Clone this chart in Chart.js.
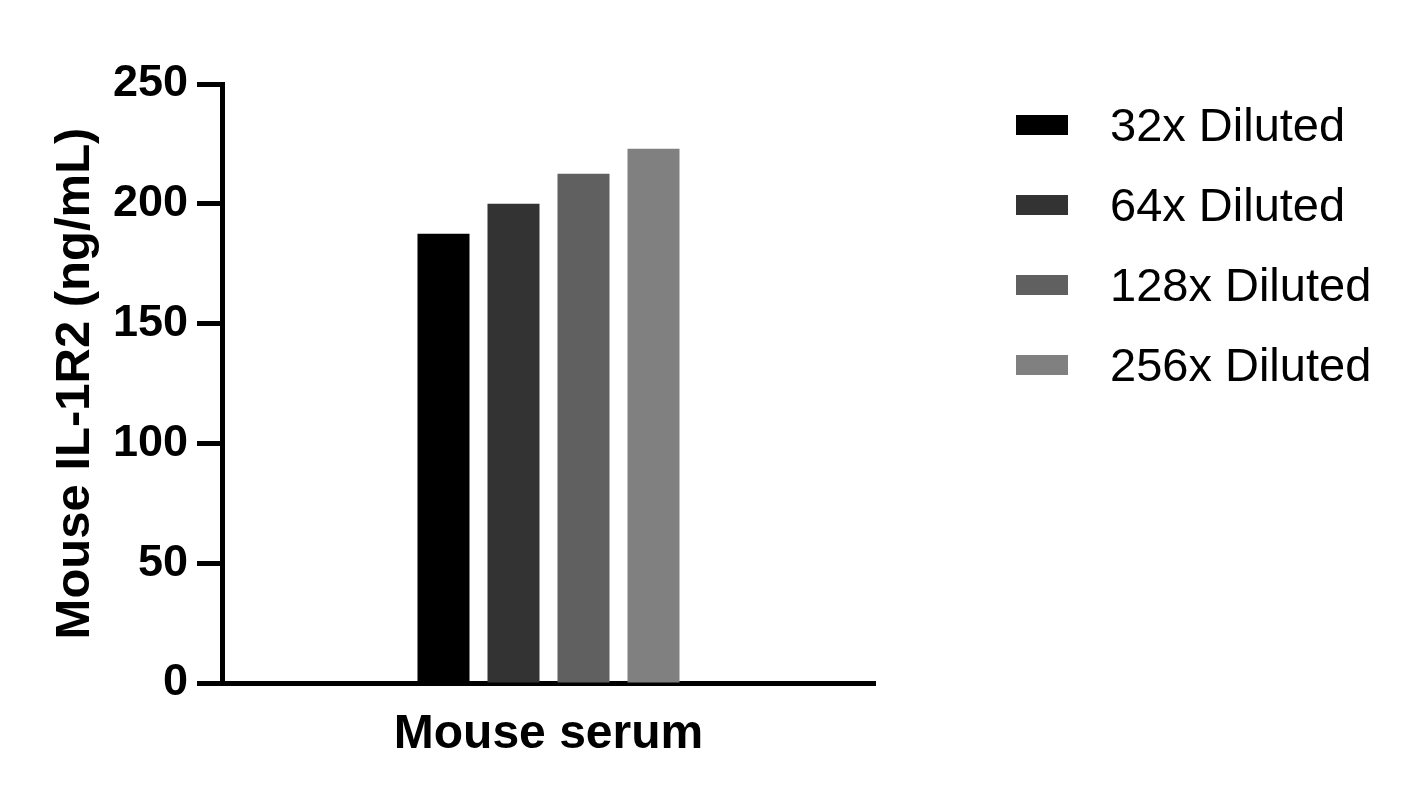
<!DOCTYPE html>
<html>
<head>
<meta charset="utf-8">
<script src="https://cdn.jsdelivr.net/npm/chart.js@4"></script>
<style>
  html, body { margin: 0; padding: 0; background: #ffffff; }
  #wrap { width: 1419px; height: 804px; }
</style>
</head>
<body>
<div id="wrap"><canvas id="c" width="1419" height="804"></canvas></div>
<script>
const categories = ["Mouse serum"];
const seriesLabels = ["32x Diluted", "64x Diluted", "128x Diluted", "256x Diluted"];
const seriesValues = [[187.5], [200], [212.5], [223]];
const seriesColors = ["#000000", "#333333", "#606060", "#808080"];
const yTickMin = 0, yTickMax = 250, yTickStep = 50;

const FONT = "'Liberation Sans', Arial, Helvetica, sans-serif";

const legendPlugin = {
  id: 'sideLegend',
  afterDraw(chart) {
    const ctx = chart.ctx;
    ctx.save();
    chart.data.datasets.forEach((ds, i) => {
      const y0 = 115 + 80 * i;
      ctx.fillStyle = ds.backgroundColor;
      ctx.fillRect(1016, y0, 52, 20);
      ctx.fillStyle = '#000000';
      ctx.font = "47px " + FONT;
      ctx.textBaseline = 'middle';
      ctx.textAlign = 'left';
      ctx.fillText(ds.label, 1110, y0 + 13);
    });
    ctx.restore();
  }
};

new Chart(document.getElementById('c'), {
  type: 'bar',
  data: {
    labels: categories,
    datasets: seriesLabels.map((lab, i) => ({
      label: lab,
      data: seriesValues[i],
      backgroundColor: seriesColors[i],
      borderWidth: 0,
      categoryPercentage: 0.4288,
      barPercentage: 0.743
    }))
  },
  options: {
    responsive: false,
    animation: false,
    devicePixelRatio: 1,
    layout: { padding: { left: 46, top: 84, right: 544, bottom: 0 } },
    plugins: { legend: { display: false }, tooltip: { enabled: false } },
    scales: {
      x: {
        grid: { display: false, drawTicks: false },
        border: { display: true, color: '#000000', width: 5 },
        ticks: {
          color: '#000000',
          padding: 23,
          font: { family: FONT, size: 48, weight: 'bold' }
        },
        afterFit(scale) { scale.height = 121; }
      },
      y: {
        min: yTickMin,
        max: yTickMax,
        grid: { drawOnChartArea: false, drawTicks: true, tickLength: 25, tickWidth: 5, tickColor: '#000000' },
        border: { display: true, color: '#000000', width: 5 },
        ticks: {
          stepSize: yTickStep,
          color: '#000000',
          padding: 9,
          font: { family: FONT, size: 45, weight: 'bold' }
        },
        title: {
          display: true,
          text: 'Mouse IL-1R2 (ng/mL)',
          color: '#000000',
          padding: 0,
          font: { family: FONT, size: 49, weight: 'bold' }
        },
        afterFit(scale) { scale.width = 222 - 46; }
      }
    }
  },
  plugins: [legendPlugin]
});
</script>
</body>
</html>
